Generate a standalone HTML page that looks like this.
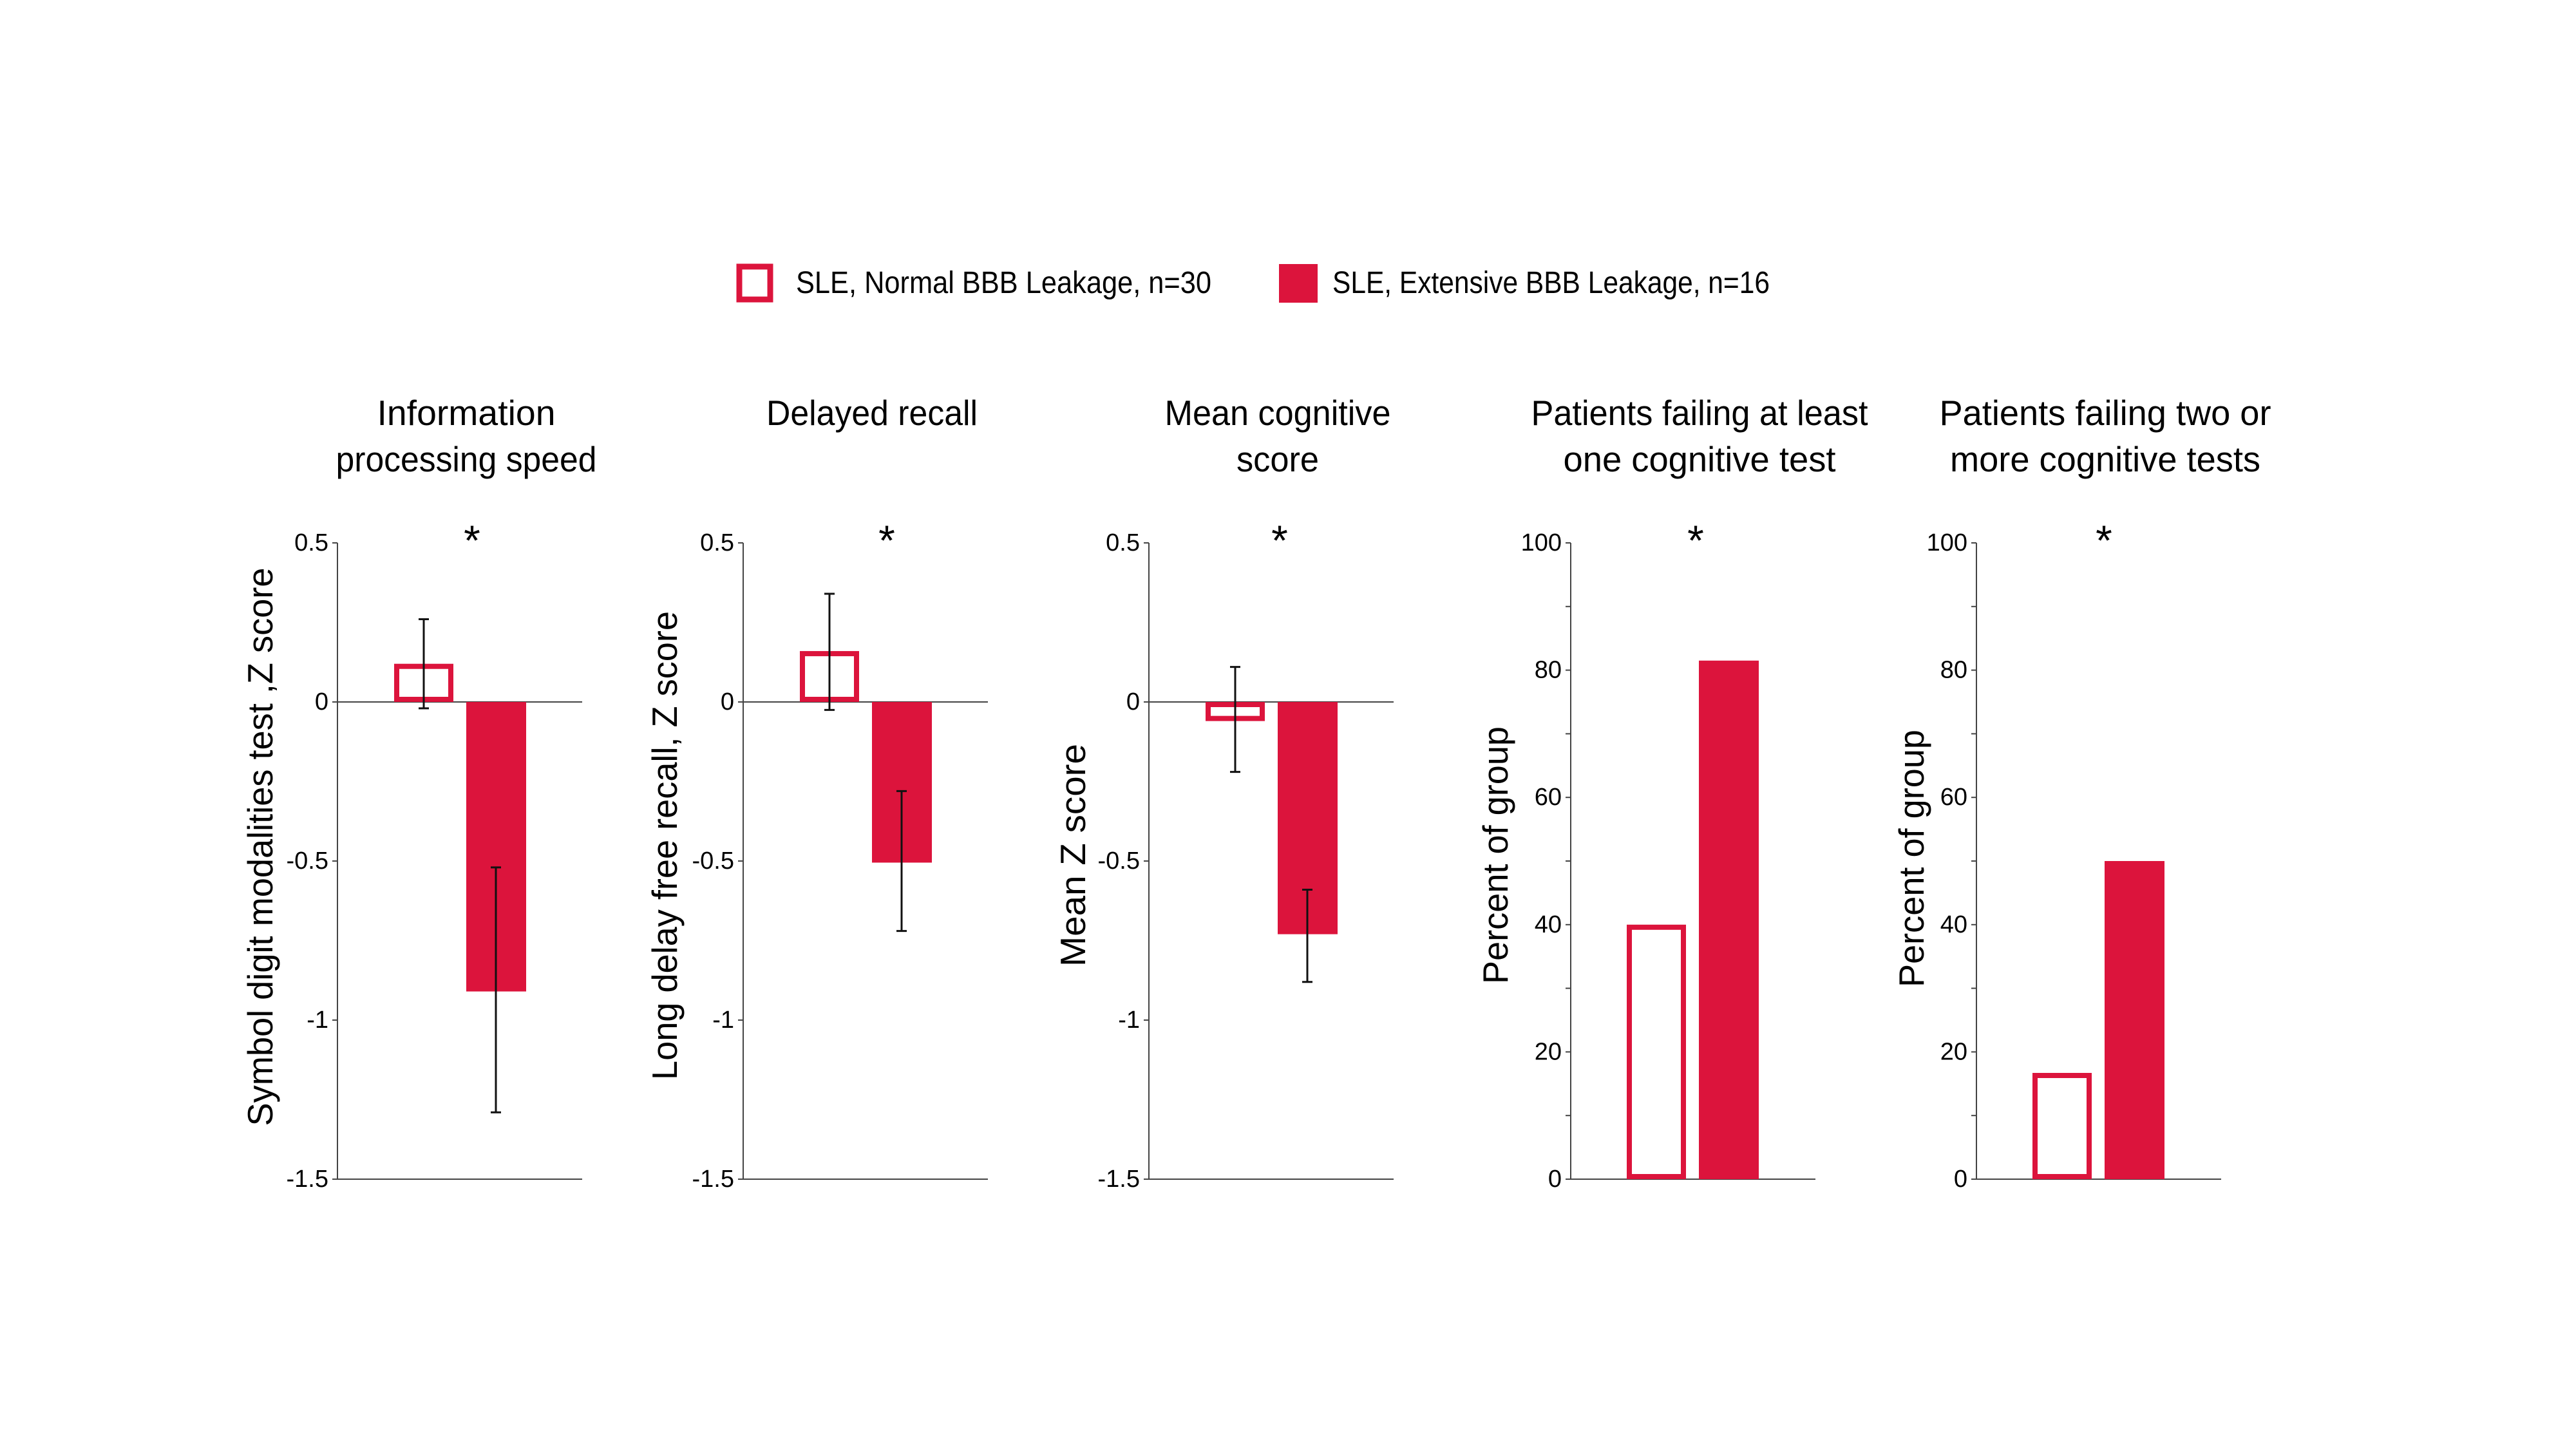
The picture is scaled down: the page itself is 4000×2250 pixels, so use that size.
<!DOCTYPE html>
<html><head><meta charset="utf-8"><style>
html,body{margin:0;padding:0;background:#fff;}
svg{display:block;font-family:"Liberation Sans",sans-serif;}
</style></head><body>
<svg id="c" width="4000" height="2250" viewBox="0 0 4000 2250" xmlns="http://www.w3.org/2000/svg">
<rect width="4000" height="2250" fill="#fff"/>
<g>
<rect x="1148" y="414" width="48" height="51" fill="#fff" stroke="#dc143c" stroke-width="9"/>
<text x="1236" y="455" font-size="48" textLength="645" lengthAdjust="spacingAndGlyphs">SLE, Normal BBB Leakage, n=30</text>
<rect x="1986" y="410" width="60" height="60" fill="#dc143c"/>
<text x="2069" y="455" font-size="48" textLength="679" lengthAdjust="spacingAndGlyphs">SLE, Extensive BBB Leakage, n=16</text>
</g>
<g id="plots"></g>
</svg>
<script>
const panelTitles=[["Information","processing speed"],["Delayed recall"],["Mean cognitive","score"],["Patients failing at least","one cognitive test"],["Patients failing two or","more cognitive tests"]];
const yTitles=["Symbol digit modalities test ,Z score","Long delay free recall,  Z score","Mean  Z score","Percent of group","Percent of group"];
const normalValues=[0.12,0.16,-0.06,40,16.7];
const extensiveValues=[-0.91,-0.505,-0.73,81.5,50];
const normalErrHi=[0.26,0.34,0.11,null,null];
const normalErrLo=[-0.02,-0.025,-0.22,null,null];
const extErrHi=[-0.52,-0.28,-0.59,null,null];
const extErrLo=[-1.29,-0.72,-0.88,null,null];
const zTicks=[0.5,0,-0.5,-1,-1.5];
const zTickLabels=["0.5","0","-0.5","-1","-1.5"];
const pctTicks=[0,20,40,60,80,100];
const pctTickLabels=["0","20","40","60","80","100"];
const pctMinor=[10,30,50,70,90];

const NS="http://www.w3.org/2000/svg";
const root=document.getElementById('plots');
const axisX=[524,1154,1784,2439,3069];
const titleW=[[277,405],[328],[351,128],[523,423],[515,482]];
const yTitleLen=[867,728,346,400,400];
const yTop=843,yBot=1831;
function mk(tag,attrs,parent){const e=document.createElementNS(NS,tag);for(const k in attrs)e.setAttribute(k,attrs[k]);(parent||root).appendChild(e);return e;}
for(let p=0;p<5;p++){
  const g=mk('g',{});
  
  
  const ax=axisX[p];
  const isZ=p<3;
  const lo=isZ?-1.5:0,hi=isZ?0.5:100;
  const y=v=>yBot-(v-lo)/(hi-lo)*(yBot-yTop);
  const cx=ax+200;
  panelTitles[p].forEach((t,i)=>{
    const tx=mk('text',{x:cx,y:660+i*72,'font-size':55,'text-anchor':'middle',textLength:titleW[p][i],lengthAdjust:'spacingAndGlyphs'},g);
    tx.textContent=t;
    
    
  });
  const ylx=[405,1033,1667,2323,2969][p];
  const ylc=[1315,1313,1328,1328,1333][p];
  const yt=mk('text',{x:0,y:0,'font-size':55,'text-anchor':'middle',transform:`translate(${ylx+18},${ylc}) rotate(-90)`,textLength:yTitleLen[p],lengthAdjust:'spacingAndGlyphs'},g);
  yt.textContent=yTitles[p];
  
  
  const ya=mk('line',{x1:ax,y1:yTop,x2:ax,y2:yBot,stroke:'#444','stroke-width':2},g);
  
  
  const baseY=isZ?y(0):yBot;
  const xa=mk('line',{x1:ax,y1:baseY,x2:ax+380,y2:baseY,stroke:'#444','stroke-width':2},g);
  
  
  if(isZ){const bl=mk('line',{x1:ax,y1:yBot,x2:ax+380,y2:yBot,stroke:'#444','stroke-width':2},g);
    
    }
  const ticks=isZ?zTicks:pctTicks, labs=isZ?zTickLabels:pctTickLabels;
  ticks.forEach((t,i)=>{
    mk('line',{x1:ax-8,y1:y(t),x2:ax,y2:y(t),stroke:'#444','stroke-width':2},g);
    const tl=mk('text',{x:ax-14,y:y(t)+12,'font-size':38,'text-anchor':'end'},g);
    tl.textContent=labs[i];
    
    
  });
  if(!isZ)pctMinor.forEach(t=>mk('line',{x1:ax-8,y1:y(t),x2:ax,y2:y(t),stroke:'#444','stroke-width':2},g));
  const bw=92;
  const x1=ax+(isZ?88:87), x2=ax+(isZ?200:199);
  const v1=normalValues[p],v2=extensiveValues[p];
  const h1=Math.max(0,Math.abs(y(v1)-y(0))-8);
  const b1=mk('rect',{x:x1+4,y:Math.min(y(v1),y(0))+4,width:bw-8,height:h1,fill:'#fff',stroke:'#dc143c','stroke-width':8},g);
  
  
  const b2=mk('rect',{x:x2,y:Math.min(y(v2),y(0)),width:bw+1,height:Math.abs(y(v2)-y(0)),fill:'#dc143c'},g);
  
  
  if(isZ){
    [[x1+bw/2,normalErrHi[p],normalErrLo[p]],[x2+bw/2,extErrHi[p],extErrLo[p]]].forEach(([ex,h,l])=>{
      const e=mk('path',{d:`M${ex},${y(h)}V${y(l)}M${ex-8},${y(h)}H${ex+8}M${ex-8},${y(l)}H${ex+8}`,stroke:'#111','stroke-width':3,fill:'none'},g);
      
      
    });
  }
  const st=mk('text',{x:[733,1377,1987,2633,3267][p],y:862,'font-size':66,'text-anchor':'middle'},g);
  st.textContent='*';
  
  
}
</script>
</body></html>
